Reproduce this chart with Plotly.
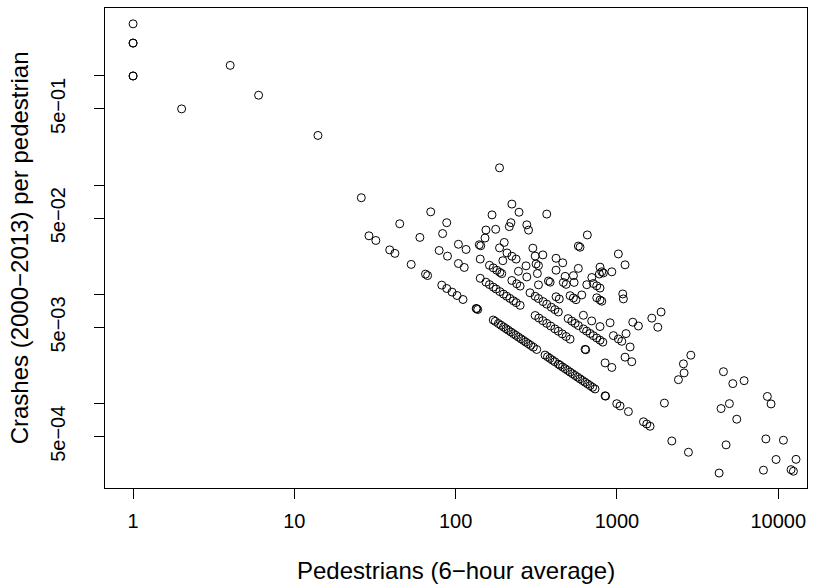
import plotly.graph_objects as go

# Pedestrian counts (6-hour average) and crash totals 2000-2013 per location,
# grouped by crash count for readability.
pedestrians = [
    # small sites
    1, 1, 1, 1, 1, 2, 4, 6, 14, 26,
    # 1 crash
    29, 32, 39, 42, 53, 65, 67, 82, 88, 95,
    102, 111, 134, 135, 137, 171, 176, 184, 191, 198,
    205, 212, 220, 228, 236, 245, 254, 263, 272, 282,
    292, 303, 318, 358, 371, 384, 398, 412, 433, 444,
    460, 477, 494, 512, 530, 550, 570, 590, 612, 634,
    657, 681, 706, 731, 844, 850, 997, 1045, 1177, 1459,
    1530, 1604, 2187, 2773, 4297,
    # 2 crashes
    45, 60, 79, 89, 104, 113, 142, 154, 162, 171,
    178, 188, 198, 207, 217, 228, 237, 251, 311, 328,
    347, 367, 388, 412, 433, 458, 484, 512, 634, 640,
    844, 929, 1968, 4746, 8090,
    # 3 crashes
    83, 104, 116, 142, 162, 171, 180, 188, 193, 223,
    239, 251, 289, 311, 326, 348, 367, 392, 412, 433,
    498, 525, 550, 576, 619, 648, 681, 713, 749, 785,
    817, 1122, 1235, 9685, 12000, 12410,
    # 4 crashes
    70, 88, 140, 143, 196, 245, 276, 326, 419, 439,
    619, 697, 785, 950, 1020, 1071, 1206, 2404, 4418, 5529,
    8375, 12880,
    # 5 crashes
    152, 187, 208, 223, 237, 273, 321, 376, 385, 512,
    537, 557, 906, 1138, 2606, 4977, 10760,
    # 6 crashes
    154, 200, 315, 326, 465, 484, 605, 2582,
    # 7 crashes
    177, 311, 419, 477, 542, 749, 785, 805, 1253, 1358,
    # 8 crashes
    301, 347, 537, 650, 2870, 5224,
    # 9 crashes
    168, 215, 419, 461, 713, 749, 785, 1791, 4571, 9020,
    # 10 crashes
    220, 576, 698, 1096, 1644, 6138, 8555,
    # 11 - 27 crashes
    283, 1086, 276, 778, 805, 824, 1877, 247, 785, 223,
    929, 576, 590, 367, 1122, 655, 1020, 187,
]

crashes = [
    1, 1, 2, 2, 3, 1, 5, 4, 4, 2,
    1, 1, 1, 1, 1, 1, 1, 1, 1, 1,
    1, 1, 1, 1, 1, 1, 1, 1, 1, 1,
    1, 1, 1, 1, 1, 1, 1, 1, 1, 1,
    1, 1, 1, 1, 1, 1, 1, 1, 1, 1,
    1, 1, 1, 1, 1, 1, 1, 1, 1, 1,
    1, 1, 1, 1, 1, 1, 1, 1, 1, 1,
    1, 1, 1, 1, 1,
    2, 2, 2, 2, 2, 2, 2, 2, 2, 2,
    2, 2, 2, 2, 2, 2, 2, 2, 2, 2,
    2, 2, 2, 2, 2, 2, 2, 2, 2, 2,
    2, 2, 2, 2, 2,
    3, 3, 3, 3, 3, 3, 3, 3, 3, 3,
    3, 3, 3, 3, 3, 3, 3, 3, 3, 3,
    3, 3, 3, 3, 3, 3, 3, 3, 3, 3,
    3, 3, 3, 3, 3, 3,
    4, 4, 4, 4, 4, 4, 4, 4, 4, 4,
    4, 4, 4, 4, 4, 4, 4, 4, 4, 4,
    4, 4,
    5, 5, 5, 5, 5, 5, 5, 5, 5, 5,
    5, 5, 5, 5, 5, 5, 5,
    6, 6, 6, 6, 6, 6, 6, 6,
    7, 7, 7, 7, 7, 7, 7, 7, 7, 7,
    8, 8, 8, 8, 8, 8,
    9, 9, 9, 9, 9, 9, 9, 9, 9, 9,
    10, 10, 10, 10, 10, 10, 10,
    11, 11, 12, 12, 13, 13, 13, 14, 14, 15,
    15, 16, 16, 20, 21, 23, 24, 27,
]

assert len(pedestrians) == len(crashes)

crash_rate = [c / p for c, p in zip(crashes, pedestrians)]

x_tick_vals = [1, 10, 100, 1000, 10000]
x_tick_text = ["1", "10", "100", "1000", "10000"]
y_tick_vals = [5e-4, 1e-3, 5e-3, 1e-2, 5e-2, 1e-1, 5e-1, 1]
y_tick_text = ["5e\u221204", "", "5e\u221203", "", "5e\u221202", "", "5e\u221201", ""]

FONT = "Liberation Sans, Arial, Helvetica, sans-serif"

fig = go.Figure(
    go.Scatter(
        x=pedestrians,
        y=crash_rate,
        mode="markers",
        marker=dict(symbol="circle-open", size=8, color="black",
                    line=dict(width=1, color="black")),
        hoverinfo="x+y",
    )
)

axis_common = dict(
    showgrid=False,
    zeroline=False,
    showline=True,
    mirror=True,
    linecolor="black",
    linewidth=1,
    ticks="outside",
    ticklen=10,
    tickwidth=1,
    tickcolor="black",
    tickfont=dict(family=FONT, size=20, color="black"),
)

fig.update_xaxes(
    type="log",
    range=[-0.174, 4.178],
    tickvals=x_tick_vals,
    ticktext=x_tick_text,
    ticklabelstandoff=5,
    **axis_common,
)
fig.update_yaxes(
    type="log",
    range=[-3.770, 0.622],
    tickvals=y_tick_vals,
    ticktext=y_tick_text,
    tickangle=-90,
    ticklabelstandoff=21,
    **axis_common,
)

fig.add_annotation(
    text="Pedestrians (6\u2212hour average)",
    xref="paper", yref="paper", x=0.5, y=-0.171,
    xanchor="center", yanchor="middle", showarrow=False,
    font=dict(family=FONT, size=24, color="black"),
)
fig.add_annotation(
    text="Crashes (2000\u22122013) per pedestrian",
    xref="paper", yref="paper", x=-0.122, y=0.5,
    xanchor="center", yanchor="middle", showarrow=False, textangle=-90,
    font=dict(family=FONT, size=24, color="black"),
)

fig.update_layout(
    width=825,
    height=588,
    margin=dict(l=105, r=18, t=8, b=100),
    paper_bgcolor="white",
    plot_bgcolor="white",
    showlegend=False,
)

fig.write_html("out.html")
